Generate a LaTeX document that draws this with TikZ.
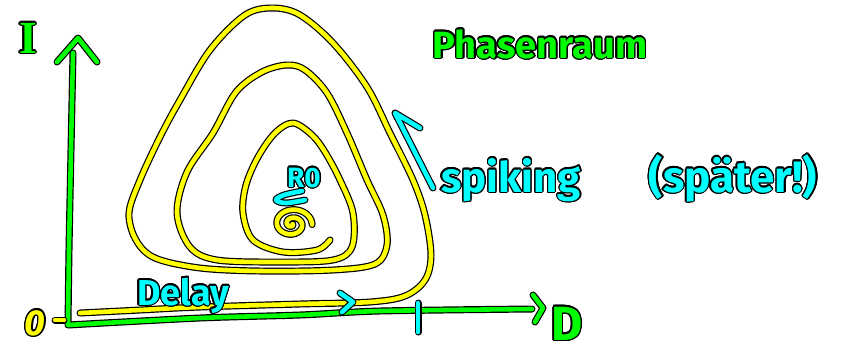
\documentclass[tikz,border=0pt]{standalone}
\usepackage{fontspec}
\setmainfont{Fira Sans}
\newfontfamily\serifI{Liberation Serif}
\usepackage{contour}
\contourlength{1.4pt}
\definecolor{hy}{RGB}{255,255,0}
\definecolor{hg}{RGB}{0,255,0}
\definecolor{hc}{RGB}{0,255,255}
\tikzset{
 pen/.style={draw=black, line width=1.2pt, double distance=4.6pt, line cap=round, line join=round},
 ypen/.style={pen, double=hy},
 gpen/.style={pen, double=hg},
 cpen/.style={pen, double=hc},
 lab/.style={inner sep=0pt, anchor=base},
}
\begin{document}
\begin{tikzpicture}[x=1pt, y=-1pt]
\useasboundingbox (0,0) rectangle (842,360);
\fill[white] (0,0) rectangle (842,360);

% axes
\coordinate (ytop) at (73,53);
\coordinate (orig) at (68,325);
\coordinate (xend) at (532,309);
\draw[gpen] plot[smooth, tension=0.4] coordinates {(ytop) (71,150) (69,250) (orig)}
  -- plot[smooth, tension=0.5] coordinates {(orig) (200,318) (300,315) (380,311) (xend)};
\draw[gpen] (57,62) -- (78,38) -- (97,62);
\draw[gpen] (533,295) -- (543,308) -- (535,322);

% yellow dash at origin
\draw[ypen] (55,320) -- (64,320);

% spiral
\draw[ypen] plot[smooth, tension=0.55] coordinates {
 (80,313) (140,310) (200,307) (300,304) (370,302) (405,296) (425,280) (431,255)
 (425,215) (413,180) (390,133) (367,87) (333,43) (300,15) (273,8) (245,15)
 (210,50) (180,100) (160,137) (140,180) (129,213) (136,240) (155,258) (200,268)
 (260,271) (333,270) (375,264) (387,245) (383,215) (367,180) (347,133) (327,93)
 (305,70) (287,65) (262,72) (236,92) (213,133) (187,172) (177,213) (190,247)
 (217,260) (280,262) (333,260) (352,247) (353,213) (340,180) (325,152) (312,135)
 (293,123) (275,133) (258,157) (246,185) (243,213) (253,240) (283,252) (317,250)
 (330,240)};
\draw[ypen] plot[domain=0.3:12.6, samples=90, variable=\t, smooth]
  ({292+1.6*\t*cos(\t r)}, {224+1.3*\t*sin(\t r)});

% cyan marks
\draw[cpen] (420,128) -- (395,113) -- (433,188);
\draw[cpen] (418,303) -- (418,332);
\draw[cpen] (340,293) -- (353,302) -- (342,312);
\draw[cpen] plot[smooth, tension=0.6] coordinates {(302,191) (284,195) (276,200) (286,203) (305,200)};

% labels
\node[lab, text=hg, font=\bfseries\fontsize{38}{38}\selectfont] (ph) at (540,58) {\contour{black}{Phasenraum}};
\node[lab, text=hc, font=\bfseries\fontsize{42}{42}\selectfont] (sp) at (511,192) {\contour{black}{spiking}};
\node[lab, text=hc, font=\bfseries\fontsize{44}{44}\selectfont] (sl) at (733,192) {\contour{black}{(später!)}};
\node[lab, text=hc, font=\bfseries\fontsize{36}{36}\selectfont] (dl) at (183,305) {\contour{black}{Delay}};
\node[lab, text=hc, font=\bfseries\fontsize{28}{28}\selectfont] (r0) at (304,187) {\contour{black}{R0}};
\node[lab, text=hg, font=\serifI\bfseries\fontsize{46}{46}\selectfont] (iy) at (28,53) {\contour{black}{I}};
\node[lab, text=hg, font=\bfseries\fontsize{48}{48}\selectfont] (dx) at (567,340) {\contour{black}{D}};
\node[lab, text=hy, font=\itshape\bfseries\fontsize{36}{36}\selectfont] (z0) at (35,335) {\contour{black}{0}};
\end{tikzpicture}
\end{document}
